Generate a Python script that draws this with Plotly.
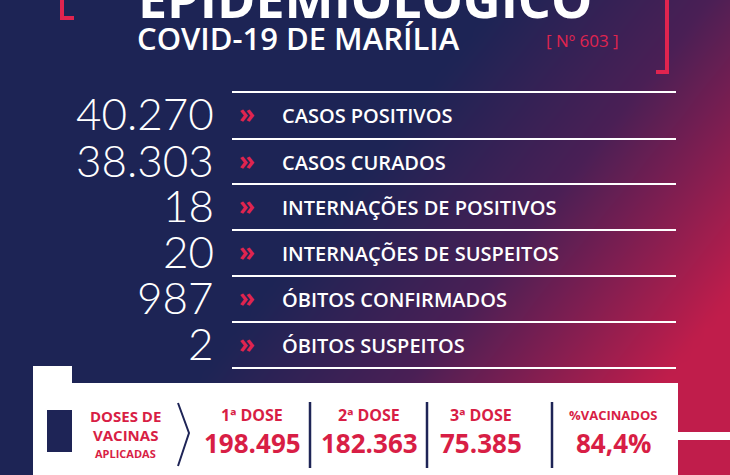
import numpy as np
import plotly.graph_objects as go

W, H = 730, 475

numbers = ["40.270", "38.303", "18", "20", "987", "2"]
labels = ["CASOS POSITIVOS", "CASOS CURADOS", "INTERNAÇÕES DE POSITIVOS",
          "INTERNAÇÕES DE SUSPEITOS", "ÓBITOS CONFIRMADOS", "ÓBITOS SUSPEITOS"]
row_y = [113, 160, 205, 251, 297, 343]

dose_titles = ["1ª DOSE", "2ª DOSE", "3ª DOSE", "%VACINADOS"]
dose_values = ["198.495", "182.363", "75.385", "84,4%"]
dose_x = [252, 369, 481, 613]

NAVY = "#1e2456"
RED = "#e0244f"
RED_TXT = "#d81e45"

# background gradient
gx = np.linspace(0, W, 60)
gy = np.linspace(0, H, 40)
X, Y = np.meshgrid(gx, gy)
Z = np.clip((X - 380) / 350 * 0.75 + (Y - 150) / 325 * 0.55, 0, 1)

fig = go.Figure(go.Heatmap(
    x=gx, y=gy, z=Z, showscale=False, hoverinfo="skip", zsmooth="best",
    colorscale=[[0, "#1d2455"], [0.45, "#4a1f55"], [1, "#c01d4b"]],
))

shapes = []
ann = []

# header
ann.append(dict(x=365, y=1, text="<b>EPIDEMIOLÓGICO</b>", font=dict(size=52, color="white", family="Open Sans"),
                xanchor="center", yanchor="middle", yshift=4, showarrow=False))
ann.append(dict(x=298, y=38, text="COVID-19 DE MARÍLIA", font=dict(size=31, color="white", family="Open Sans", weight=600),
                xanchor="center", yanchor="middle", showarrow=False))
ann.append(dict(x=582, y=40, text="[ Nº 603 ]", font=dict(size=17, color=RED, family="Open Sans"),
                xanchor="center", yanchor="middle", showarrow=False))
# brackets
shapes.append(dict(type="path", path="M 62 0 L 62 18 L 74 18", line=dict(color=RED, width=4)))
shapes.append(dict(type="path", path="M 667 0 L 667 72 L 656 72", line=dict(color=RED, width=4)))

for n, lab, y in zip(numbers, labels, row_y):
    shapes.append(dict(type="line", x0=232, x1=676, y0=y - 21, y1=y - 21, line=dict(color="white", width=2)))
    ann.append(dict(x=216, y=y, text=n, font=dict(size=44, color="white", family="Lato", weight=300),
                    xanchor="right", yanchor="middle", showarrow=False))
    ann.append(dict(x=247, y=y, text="<b>»</b>", font=dict(size=26, color=RED, family="Open Sans"),
                    xanchor="center", yanchor="middle", showarrow=False))
    ann.append(dict(x=280, y=y + 2, text=lab, font=dict(size=20, color="white", family="Open Sans", weight=600),
                    xanchor="left", yanchor="middle", showarrow=False))
shapes.append(dict(type="line", x0=232, x1=676, y0=row_y[-1] - 21 + 46, y1=row_y[-1] - 21 + 46,
                   line=dict(color="white", width=2)))

# H icon and white box
shapes.append(dict(type="rect", x0=33, x1=72, y0=366, y1=H, fillcolor="white", line_width=0))
shapes.append(dict(type="rect", x0=72, x1=678, y0=383, y1=H, fillcolor="white", line_width=0))
shapes.append(dict(type="rect", x0=678, x1=W, y0=432, y1=440, fillcolor="white", line_width=0))
shapes.append(dict(type="rect", x0=47, x1=72, y0=410, y1=452, fillcolor=NAVY, line_width=0))

ann.append(dict(x=125, y=416, text="<b>DOSES DE</b>", font=dict(size=15, color=RED_TXT, family="Open Sans"),
                xanchor="center", yanchor="middle", showarrow=False))
ann.append(dict(x=125, y=435, text="<b>VACINAS</b>", font=dict(size=15, color=RED_TXT, family="Open Sans"),
                xanchor="center", yanchor="middle", showarrow=False))
ann.append(dict(x=125, y=453, text="<b>APLICADAS</b>", font=dict(size=11, color=RED_TXT, family="Open Sans"),
                xanchor="center", yanchor="middle", showarrow=False))
shapes.append(dict(type="path", path="M 178 403 L 189 433 L 178 466", line=dict(color=NAVY, width=2)))
for xd in [310, 427, 552]:
    shapes.append(dict(type="line", x0=xd, x1=xd, y0=402, y1=468, line=dict(color=NAVY, width=2.5)))
for t, v, xd in zip(dose_titles, dose_values, dose_x):
    ann.append(dict(x=xd, y=415, text="<b>%s</b>" % t, font=dict(size=16 if t[0] != "%" else 13, color=RED_TXT, family="Open Sans"),
                    xanchor="center", yanchor="middle", showarrow=False))
    ann.append(dict(x=xd, y=443, text="<b>%s</b>" % v, font=dict(size=26, color=RED_TXT, family="Open Sans"),
                    xanchor="center", yanchor="middle", showarrow=False))

fig.update_layout(
    width=W, height=H, margin=dict(l=0, r=0, t=0, b=0),
    xaxis=dict(range=[0, W], visible=False, fixedrange=True),
    yaxis=dict(range=[H, 0], visible=False, fixedrange=True),
    shapes=shapes, annotations=ann, plot_bgcolor=NAVY, paper_bgcolor=NAVY,
)

fig.write_html("out.html", config={"displayModeBar": False},
               post_script="document.body.style.margin='0';")
